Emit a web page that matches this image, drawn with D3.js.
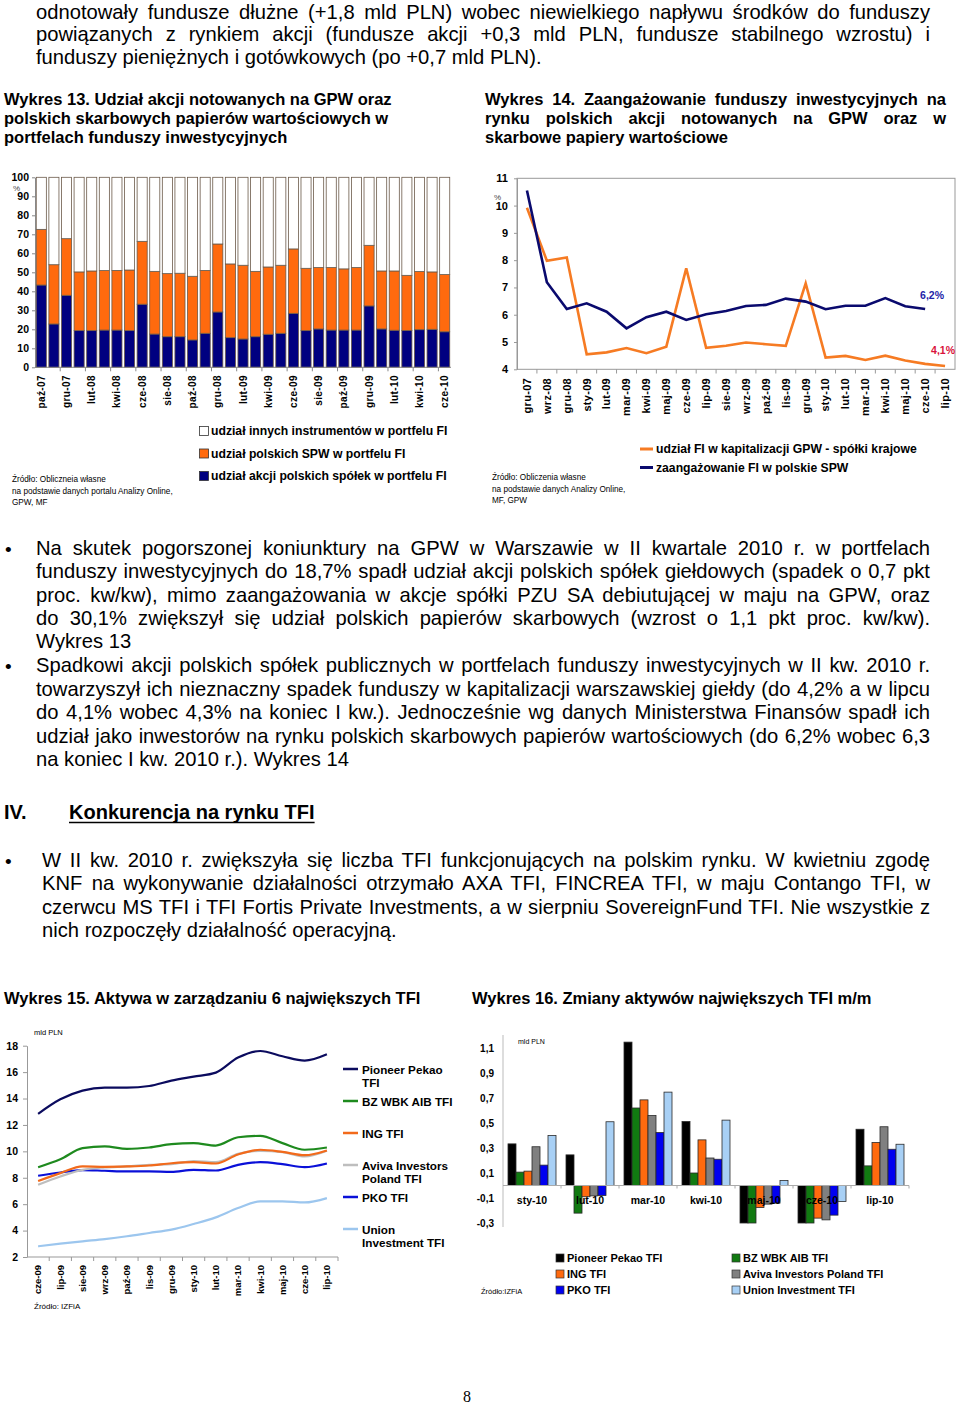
<!DOCTYPE html>
<html><head><meta charset="utf-8">
<script src="https://cdn.jsdelivr.net/npm/d3@7"></script>
<style>
body{margin:0;width:960px;height:1406px;overflow:hidden;background:#fff}
svg{display:block;font-family:"Liberation Sans",Arial,sans-serif}
</style></head><body>
<svg id="c" width="960" height="1406"></svg>
<script>
// ---------- DATA ----------
// Wykres 13
const months13 = ["paź-07","lis-07","gru-07","sty-08","lut-08","mar-08","kwi-08","maj-08","cze-08","lip-08","sie-08","wrz-08","paź-08","lis-08","gru-08","sty-09","lut-09","mar-09","kwi-09","maj-09","cze-09","lip-09","sie-09","wrz-09","paź-09","lis-09","gru-09","sty-10","lut-10","mar-10","kwi-10","maj-10","cze-10"];
const akcje13 = [43.3,22.8,37.9,19.3,19.3,19.6,19.6,19.3,33.2,17.5,16.1,16.1,14.4,17.9,29.1,15.6,14.9,16.1,17.4,17.9,28.4,19.3,20.2,19.6,19.6,19.6,32.3,20.2,19.5,19.4,19.8,20.0,18.7];
const spw13 = [29.3,31.2,29.8,30.9,31.4,31.3,31.4,31.9,33.1,33.0,33.2,33.4,33.5,33.1,35.8,38.8,38.8,34.4,35.4,35.8,33.9,32.8,32.3,32.9,32.2,32.9,31.9,30.5,31.2,29.0,30.6,30.2,30.1];
const yTicks13 = [0,10,20,30,40,50,60,70,80,90,100];
const legend13 = ["udział innych instrumentów w portfelu FI","udział polskich SPW w portfelu FI","udział akcji polskich spółek w portfelu FI"];

// Wykres 14
const cats14 = ["gru-07","wrz-08","gru-08","sty-09","lut-09","mar-09","kwi-09","maj-09","cze-09","lip-09","sie-09","wrz-09","paź-09","lis-09","gru-09","sty-10","lut-10","mar-10","kwi-10","maj-10","cze-10","lip-10"];
const kapit14 = [9.92,7.98,8.10,4.55,4.62,4.78,4.59,4.83,7.70,4.79,4.86,4.98,4.92,4.86,7.15,4.43,4.49,4.34,4.50,4.32,4.20,4.12];
const spw14 = [10.55,7.19,6.21,6.42,6.11,5.50,5.91,6.11,5.81,6.02,6.14,6.32,6.36,6.59,6.48,6.20,6.33,6.33,6.61,6.31,6.21,null];
const yTicks14 = [4,5,6,7,8,9,10,11];
const legend14 = ["udział FI w kapitalizacji GPW - spółki krajowe","zaangażowanie  FI w polskie SPW"];

// Wykres 15
const cats15 = ["cze-09","lip-09","sie-09","wrz-09","paź-09","lis-09","gru-09","sty-10","lut-10","mar-10","kwi-10","maj-10","cze-10","lip-10"];
const pioneer15 = [12.84,13.94,14.60,14.83,14.83,14.95,15.36,15.66,15.96,17.10,17.60,17.20,16.87,17.35];
const bzwbk15 = [8.80,9.40,10.24,10.37,10.19,10.29,10.54,10.62,10.44,11.07,11.17,10.62,10.12,10.29];
const ing15 = [7.75,8.35,8.86,8.83,8.86,8.93,9.10,9.18,9.08,9.76,10.12,9.96,9.71,10.07];
const aviva15 = [7.47,8.10,8.60,8.78,8.86,8.98,9.03,9.26,9.18,9.81,10.04,9.94,9.61,10.04];
const pko15 = [8.15,8.40,8.58,8.53,8.48,8.48,8.45,8.60,8.55,8.98,9.18,9.03,8.80,9.08];
const union15 = [2.81,3.01,3.19,3.36,3.57,3.82,4.07,4.50,5.00,5.71,6.21,6.21,6.13,6.46];
const yTicks15 = [2,4,6,8,10,12,14,16,18];
const names15 = [["Pioneer Pekao","TFI"],["BZ WBK AIB TFI"],["ING TFI"],["Aviva Investors","Poland TFI"],["PKO TFI"],["Union","Investment TFI"]];

// Wykres 16
const cats16 = ["sty-10","lut-10","mar-10","kwi-10","maj-10","cze-10","lip-10"];
const pioneer16 = [0.333,0.245,1.147,0.512,-0.30,-0.30,0.450];
const bzwbk16 = [0.107,-0.221,0.620,0.100,-0.30,-0.30,0.157];
const ing16 = [0.115,-0.090,0.685,0.365,-0.176,-0.261,0.344];
const aviva16 = [0.310,-0.083,0.560,0.220,-0.149,-0.275,0.470];
const pko16 = [0.163,-0.080,0.424,0.210,-0.141,-0.237,0.290];
const union16 = [0.400,0.510,0.747,0.523,0.040,-0.128,0.330];
const yTicks16 = [-0.3,-0.1,0.1,0.3,0.5,0.7,0.9,1.1];
const names16 = ["Pioneer Pekao TFI","BZ WBK AIB TFI","ING TFI","Aviva Investors Poland TFI","PKO TFI","Union Investment TFI"];

// ---------- HELPERS ----------
const svg = d3.select("#c");
function tline(g, x, y, txt, size, weight, width, anchor){
  const t = g.append("text").attr("x",x).attr("y",y).attr("font-size",size)
    .attr("font-weight",weight||"normal").attr("text-anchor",anchor||"start").text(txt);
  if (width){
    const s = txt.replace(/\s+/g," ");
    t.text(s);
    const len = t.node().getComputedTextLength();
    const n = (s.match(/ /g)||[]).length;
    if (n>0) t.attr("word-spacing",((width-len)/n).toFixed(3));
  }
  return t;
}
function para(lines, x, y0, lh, w, size, weight){
  lines.forEach((l,i)=>tline(svg, x, y0+i*lh, l, size, weight, i<lines.length-1 ? w : null));
}
const comma = v => (Math.round(v*10)/10).toString().replace(".",",");
const BODY = 20.2, TITLE = 16.5;

// ---------- BODY TEXT ----------
para(["odnotowały fundusze dłużne (+1,8 mld PLN) wobec niewielkiego napływu środków do funduszy",
      "powiązanych z rynkiem akcji (fundusze akcji +0,3 mld PLN, fundusze stabilnego wzrostu) i",
      "funduszy pieniężnych i gotówkowych (po +0,7 mld PLN)."], 36, 18.5, 22.5, 894, BODY);

para(["Wykres 13. Udział akcji  notowanych na GPW oraz","polskich skarbowych papierów wartościowych w","portfelach funduszy inwestycyjnych"], 4, 105, 19, null, TITLE, "bold");
para(["Wykres 14. Zaangażowanie funduszy inwestycyjnych na","rynku polskich akcji notowanych na GPW oraz w","skarbowe papiery wartościowe"], 485, 105, 19, 461, TITLE, "bold");

tline(svg, 5, 556, "•", 19);
para(["Na skutek pogorszonej koniunktury na GPW w Warszawie w II kwartale 2010 r. w portfelach",
      "funduszy inwestycyjnych do 18,7% spadł udział akcji polskich spółek giełdowych (spadek o 0,7 pkt",
      "proc. kw/kw), mimo zaangażowania w akcje spółki PZU SA debiutującej w maju na GPW, oraz",
      "do 30,1% zwiększył się udział polskich papierów skarbowych (wzrost o 1,1 pkt proc. kw/kw).",
      "Wykres 13"], 36, 555, 23.3, 894, BODY);
tline(svg, 5, 673, "•", 19);
para(["Spadkowi akcji polskich spółek publicznych w portfelach funduszy inwestycyjnych w II kw. 2010 r.",
      "towarzyszył ich nieznaczny spadek funduszy w kapitalizacji warszawskiej giełdy  (do 4,2% a w lipcu",
      "do 4,1% wobec 4,3% na koniec I kw.). Jednocześnie wg danych Ministerstwa Finansów spadł ich",
      "udział jako inwestorów na rynku polskich skarbowych papierów wartościowych (do 6,2% wobec 6,3",
      "na koniec I kw. 2010 r.). Wykres 14"], 36, 672, 23.5, 894, BODY);

tline(svg, 4, 819, "IV.", 20, "bold");
const hd = tline(svg, 69, 819, "Konkurencja na rynku TFI", 20, "bold");
const hw = hd.node().getComputedTextLength();
svg.append("line").attr("x1",69).attr("x2",69+hw).attr("y1",822.5).attr("y2",822.5).attr("stroke","#000").attr("stroke-width",1.6);

tline(svg, 5, 868, "•", 19);
para(["W II kw. 2010 r. zwiększyła się liczba TFI funkcjonujących na polskim rynku. W kwietniu zgodę",
      "KNF na wykonywanie działalności otrzymało AXA TFI, FINCREA TFI, w maju Contango TFI, w",
      "czerwcu MS TFI i TFI Fortis Private Investments, a w sierpniu SovereignFund TFI. Nie wszystkie z",
      "nich rozpoczęły działalność operacyjną."], 42, 867, 23.3, 888, BODY);

tline(svg, 4, 1004, "Wykres 15. Aktywa w zarządzaniu 6 największych TFI", TITLE, "bold");
tline(svg, 472, 1004, "Wykres 16. Zmiany aktywów największych TFI m/m", TITLE, "bold");
svg.append("text").attr("x",467).attr("y",1402).attr("font-size",16).attr("text-anchor","middle")
   .attr("font-family","'Liberation Serif',serif").text("8");

// ---------- WYKRES 13 ----------
{
  const g = svg.append("g");
  const x = d3.scaleBand().domain(months13).range([35,451]).paddingInner(0.2).paddingOuter(0.1);
  const y = d3.scaleLinear().domain([0,100]).range([367.3,177.3]);
  const rows = months13.map((m,i)=>({m, akcje:akcje13[i], spw:spw13[i], inne:100-akcje13[i]-spw13[i]}));
  const keys = ["akcje","spw","inne"];
  const col = {akcje:"#000080", spw:"#FF6A0E", inne:"#FFFFFF"};
  const st = d3.stack().keys(keys)(rows);
  g.selectAll("g.s").data(st).join("g").attr("fill",d=>col[d.key])
    .selectAll("rect").data(d=>d).join("rect")
    .attr("x",d=>x(d.data.m)).attr("width",x.bandwidth())
    .attr("y",d=>y(d[1])).attr("height",d=>y(d[0])-y(d[1]))
    .attr("stroke","#6b5a4a").attr("stroke-width",0.8);
  const ya = g.append("g").attr("transform","translate(35,0)")
    .call(d3.axisLeft(y).tickValues(yTicks13).tickSize(3).tickSizeOuter(0));
  ya.select(".domain").attr("stroke","#888");
  ya.selectAll(".tick line").attr("stroke","#888");
  ya.selectAll("text").attr("font-size",10.5).attr("font-weight","bold").attr("font-family","'Liberation Sans',Arial").attr("fill","#000");
  g.append("line").attr("x1",35).attr("x2",451).attr("y1",y(0)).attr("y2",y(0)).attr("stroke","#888");
  months13.forEach((m,i)=>{
    if(i%2===0){
      const cx = x(m)+x.bandwidth()/2;
      g.append("text").attr("transform",`translate(${cx},375) rotate(-90)`).attr("dy","0.35em")
        .attr("text-anchor","end").attr("font-size",10).attr("font-weight","bold").attr("letter-spacing",0.4).text(m);
      if(i>0){
        const bx = x(m)-x.step()*x.paddingInner()/2;
        g.append("line").attr("x1",bx).attr("x2",bx).attr("y1",y(0)).attr("y2",y(0)+4).attr("stroke","#888");
      }
    }
  });
  g.append("text").attr("x",13).attr("y",191).attr("font-size",8).attr("fill","#444").text("%");
  const lg = g.append("g");
  legend13.forEach((t,i)=>{
    const yy = 431 + i*22.5;
    const k = keys[2-i];
    lg.append("rect").attr("x",199.5).attr("y",yy-4.5).attr("width",9).attr("height",9)
      .attr("fill",col[k]).attr("stroke","#333").attr("stroke-width",0.8);
    lg.append("text").attr("x",211).attr("y",yy+4.3).attr("font-size",12.2).attr("font-weight","bold").text(t);
  });
  ["Źródło: Obliczneia własne","na podstawie danych portalu Analizy Online,","GPW, MF"].forEach((t,i)=>
    g.append("text").attr("x",12).attr("y",482+i*11.5).attr("font-size",8.2).text(t));
}

// ---------- WYKRES 14 ----------
{
  const g = svg.append("g");
  const x = d3.scaleBand().domain(cats14).range([517,955]);
  const y = d3.scaleLinear().domain([4,11]).range([369.3,178.3]);
  g.append("rect").attr("x",517).attr("y",178.3).attr("width",438).attr("height",191)
    .attr("fill","none").attr("stroke","#999");
  const ya = g.append("g").attr("transform","translate(517,0)")
    .call(d3.axisLeft(y).tickValues(yTicks14).tickFormat(d3.format("d")).tickSize(3).tickSizeOuter(0));
  ya.select(".domain").attr("stroke","#999");
  ya.selectAll(".tick line").attr("stroke","#999");
  ya.selectAll("text").attr("font-size",11).attr("font-weight","bold").attr("font-family","'Liberation Sans',Arial").attr("fill","#000").attr("x",-9);
  cats14.forEach((c,i)=>{
    const bx = x(c);
    if(i>0) g.append("line").attr("x1",bx).attr("x2",bx).attr("y1",369.3).attr("y2",373.5).attr("stroke","#999");
    g.append("text").attr("transform",`translate(${bx+x.bandwidth()/2},378) rotate(-90)`).attr("dy","0.35em")
      .attr("text-anchor","end").attr("font-size",11).attr("font-weight","bold").attr("letter-spacing",0.3).text(c);
  });
  const line = d3.line().defined(d=>d!=null).x((d,i)=>x(cats14[i])+x.bandwidth()/2).y(d=>y(d));
  g.append("path").attr("d",line(kapit14)).attr("fill","none").attr("stroke","#F67B23").attr("stroke-width",2.6);
  g.append("path").attr("d",line(spw14)).attr("fill","none").attr("stroke","#0A0A6E").attr("stroke-width",2.6);
  g.append("text").attr("x",494).attr("y",200).attr("font-size",8).attr("fill","#444").text("%");
  const li = spw14.length-2;
  g.append("text").attr("x",944).attr("y",y(spw14[li])-10).attr("text-anchor","end").attr("font-size",10.5)
    .attr("font-weight","bold").attr("fill","#2323A8").text(comma(spw14[li])+"%");
  const lk = kapit14.length-1;
  g.append("text").attr("x",955).attr("y",y(kapit14[lk])-12).attr("text-anchor","end").attr("font-size",10.5)
    .attr("font-weight","bold").attr("fill","#D9123C").text(comma(kapit14[lk])+"%");
  ["#F67B23","#0A0A6E"].forEach((c,i)=>{
    const yy = 449 + i*18.5;
    g.append("line").attr("x1",640).attr("x2",653).attr("y1",yy).attr("y2",yy).attr("stroke",c).attr("stroke-width",3);
    g.append("text").attr("x",656).attr("y",yy+4.3).attr("font-size",12.2).attr("font-weight","bold").text(legend14[i]);
  });
  ["Źródło: Obliczenia własne","na podstawie danych Analizy Online,","MF, GPW"].forEach((t,i)=>
    g.append("text").attr("x",492).attr("y",480+i*11.5).attr("font-size",8.2).text(t));
}

// ---------- WYKRES 15 ----------
{
  const g = svg.append("g");
  const x = d3.scaleBand().domain(cats15).range([27,338]);
  const y = d3.scaleLinear().domain([2,18]).range([1257,1045.7]);
  const ya = g.append("g").attr("transform","translate(27,0)")
    .call(d3.axisLeft(y).tickValues(yTicks15).tickSize(4).tickSizeOuter(0));
  ya.select(".domain").attr("stroke","#999");
  ya.selectAll(".tick line").attr("stroke","#999");
  ya.selectAll("text").attr("font-size",10.5).attr("font-weight","bold").attr("font-family","'Liberation Sans',Arial").attr("fill","#000").attr("x",-9);
  g.append("line").attr("x1",27).attr("x2",338).attr("y1",1257).attr("y2",1257).attr("stroke","#999");
  cats15.forEach((c,i)=>{
    const bx = x(c);
    g.append("line").attr("x1",bx+x.bandwidth()).attr("x2",bx+x.bandwidth()).attr("y1",1257).attr("y2",1261).attr("stroke","#999");
    g.append("text").attr("transform",`translate(${bx+x.bandwidth()/2},1265) rotate(-90)`).attr("dy","0.35em")
      .attr("text-anchor","end").attr("font-size",9.5).attr("font-weight","bold").text(c);
  });
  const series = [pioneer15,bzwbk15,ing15,aviva15,pko15,union15];
  const cols = ["#0B0B5E","#1E8A1E","#F26A1B","#BEBEBE","#0A10D8","#9CC6EE"];
  const line = d3.line().x((d,i)=>x(cats15[i])+x.bandwidth()/2).y(d=>y(d)).curve(d3.curveMonotoneX);
  [5,4,3,2,1,0].forEach(k=>{
    g.append("path").attr("d",line(series[k])).attr("fill","none").attr("stroke",cols[k]).attr("stroke-width",2.2);
  });
  names15.forEach((n,i)=>{
    const yy = 1069 + i*32;
    g.append("line").attr("x1",343).attr("x2",358).attr("y1",yy).attr("y2",yy).attr("stroke",cols[i]).attr("stroke-width",2.5);
    n.forEach((t,j)=>g.append("text").attr("x",362).attr("y",yy+4.5+j*13).attr("font-size",11.7).attr("font-weight","bold").text(t));
  });
  g.append("text").attr("x",34).attr("y",1035).attr("font-size",7.5).text("mld PLN");
  g.append("text").attr("x",34).attr("y",1309).attr("font-size",8).text("Źródło: IZFiA");
}

// ---------- WYKRES 16 ----------
{
  const g = svg.append("g");
  const x0 = d3.scaleBand().domain(cats16).range([503,909]);
  const keys = d3.range(6);
  const x1 = d3.scaleBand().domain(keys).range([0,x0.bandwidth()]).paddingOuter(0.625);
  const y = d3.scaleLinear().domain([-0.3,1.2]).range([1223,1035.5]);
  const series = [pioneer16,bzwbk16,ing16,aviva16,pko16,union16];
  const cols = ["#000000","#117A11","#FF6A0E","#808080","#0000F0","#A8D0F5"];
  g.append("line").attr("x1",503).attr("x2",503).attr("y1",1035).attr("y2",1227).attr("stroke","#bbb");
  cats16.forEach((c,i)=>{
    keys.forEach(k=>{
      const v = series[k][i];
      g.append("rect").attr("x",x0(c)+x1(k)).attr("width",x1.bandwidth())
        .attr("y",y(Math.max(0,v))).attr("height",Math.abs(y(v)-y(0)))
        .attr("fill",cols[k]).attr("stroke","#2a2a2a").attr("stroke-width",0.8);
    });
  });
  g.append("line").attr("x1",503).attr("x2",909).attr("y1",y(0)).attr("y2",y(0)).attr("stroke","#aaa");
  cats16.forEach(c=>{
    g.append("line").attr("x1",x0(c)+x0.bandwidth()).attr("x2",x0(c)+x0.bandwidth()).attr("y1",y(0)).attr("y2",y(0)+3).attr("stroke","#aaa");
    g.append("text").attr("x",x0(c)+x0.bandwidth()/2).attr("y",1204).attr("text-anchor","middle")
      .attr("font-size",10.5).attr("font-weight","bold").text(c);
  });
  yTicks16.forEach(v=>{
    g.append("text").attr("x",494).attr("y",y(v)+4).attr("text-anchor","end").attr("font-size",10)
      .attr("font-weight","bold").text(comma(v));
  });
  g.append("text").attr("x",518).attr("y",1044).attr("font-size",7).text("mld PLN");
  names16.forEach((n,i)=>{
    const cx = i%2===0 ? 556 : 732, yy = 1258 + Math.floor(i/2)*16;
    g.append("rect").attr("x",cx).attr("y",yy-4).attr("width",8).attr("height",8).attr("fill",cols[i]).attr("stroke","#333").attr("stroke-width",0.7);
    g.append("text").attr("x",cx+11).attr("y",yy+4).attr("font-size",11).attr("font-weight","bold").text(n);
  });
  g.append("text").attr("x",481).attr("y",1294).attr("font-size",7.5).text("Źródło:IZFiA");
}
</script>
</body></html>
